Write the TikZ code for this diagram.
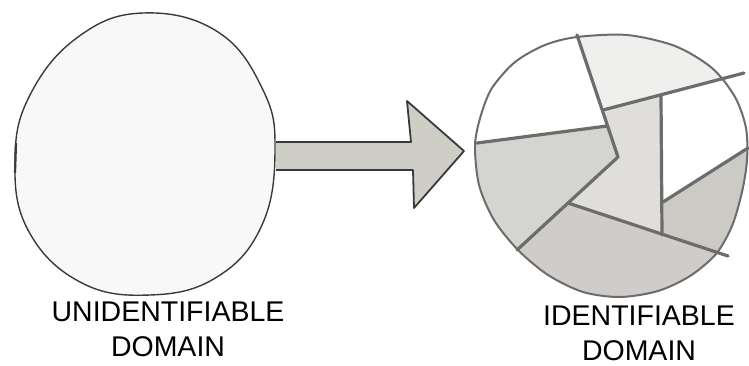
\documentclass[tikz,border=0pt]{standalone}
\usepackage{fontspec}
\setmainfont{Liberation Sans}
\definecolor{InkDark}{HTML}{3A3A3A}
\definecolor{InkGray}{HTML}{6C6C6C}
\definecolor{PaperWhite}{HTML}{F8F8F8}
\definecolor{ArrowFill}{HTML}{CFCEC6}
\definecolor{ZoneTop}{HTML}{EFEFED}
\definecolor{ZoneLeft}{HTML}{D4D4D1}
\definecolor{ZoneMid}{HTML}{E0DEDA}
\definecolor{ZoneLow}{HTML}{CBCAC4}
\definecolor{ZoneBase}{HTML}{CFCCCA}

\begin{document}
\begin{tikzpicture}[x=1pt, y=-1pt, every node/.style={font=\fontsize{28.5}{34}\selectfont, color=black, inner sep=0pt, anchor=base}]
  \useasboundingbox (0,0) rectangle (749,365);
  % left domain
  \begin{scope}
    \draw[fill=PaperWhite, draw=InkDark, line width=1.4pt] plot[smooth cycle, tension=0.7] coordinates {(143,13) (218,32) (263,90) (275,150) (262,225) (217,277) (150,295) (80,282) (28,230) (15,160) (30,95) (78,37)};
    \draw[InkDark, line width=2.2pt] (16,143) -- (15,173);
    \node (unidTop) at (168,321) {UNIDENTIFIABLE};
    \node (unidBot) at (168,356) {DOMAIN};
  \end{scope}
  % arrow
  \fill[ArrowFill] (276,142) -- (411,142) -- (407,101) -- (464,151) -- (414,208) -- (413,170) -- (276,170) -- cycle;
  \draw[InkDark, line width=1.8pt, line join=round] (276,142) -- (411,142) -- (407,101) -- (464,151) -- (414,208) -- (413,170) -- (276,170);
  % right domain
  \begin{scope}
    \foreach \x/\y [count=\i] in {475/145, 481/115, 492/88, 515/62, 545/45, 577/37, 627/35, 675/46, 712/68, 735/97, 746/128, 747/160, 742/192, 732/226, 716/254, 690/276, 658/291, 620/297, 583/292, 548/275, 518/250, 494/220, 479/185}
      \coordinate (r\i) at (\x,\y);
    \coordinate (pTop) at (577,35);
    \coordinate (pA) at (603,110);
    \coordinate (pB) at (607,126);
    \coordinate (pK) at (618,157);
    \coordinate (pM) at (568,203);
    \coordinate (pBL) at (517,250);
    \coordinate (pL) at (477,143);
    \coordinate (pC) at (744,73);
    \coordinate (pD1) at (661,96);
    \coordinate (pD2) at (662,235);
    \coordinate (pF1) at (663,202);
    \coordinate (pF2) at (748,148);
    \coordinate (pE2) at (728,256);
    \begin{scope}
      \clip plot[smooth cycle, tension=0.5] coordinates {(r1) (r2) (r3) (r4) (r5) (r6) (r7) (r8) (r9) (r10) (r11) (r12) (r13) (r14) (r15) (r16) (r17) (r18) (r19) (r20) (r21) (r22) (r23)};
      \fill[white] (440,0) rectangle (770,330);
      \fill[ZoneTop] (577,10) -- (pTop) -- (pA) -- (pC) -- (770,66) -- (770,10) -- cycle;
      \fill[ZoneLeft] (pL) -- (pB) -- (pK) -- (pBL) -- (490,275) -- (440,275) -- (440,143) -- cycle;
      \fill[ZoneMid] (pA) -- (pK) -- (pM) -- (pD2) -- (pD1) -- cycle;
      \fill[ZoneLow] (pF1) -- (770,134) -- (770,271) -- (pD2) -- cycle;
      \fill[ZoneBase] (490,275) -- (pBL) -- (pM) -- (770,271) -- (770,330) -- (470,330) -- cycle;
    \end{scope}
    \draw[InkGray, line width=3.2pt, line cap=round, line join=round] (pTop) -- (pK) -- (pBL);
    \foreach \a/\b in {pL/pB, pA/pC, pD1/pD2, pM/pE2, pF1/pF2}
      \draw[InkGray, line width=3.2pt, line cap=round] (\a) -- (\b);
    \draw[InkGray, line width=2pt] plot[smooth cycle, tension=0.5] coordinates {(r1) (r2) (r3) (r4) (r5) (r6) (r7) (r8) (r9) (r10) (r11) (r12) (r13) (r14) (r15) (r16) (r17) (r18) (r19) (r20) (r21) (r22) (r23)};
    \node (idTop) at (639,325) {IDENTIFIABLE};
    \node (idBot) at (639,360) {DOMAIN};
  \end{scope}
\end{tikzpicture}
\end{document}
